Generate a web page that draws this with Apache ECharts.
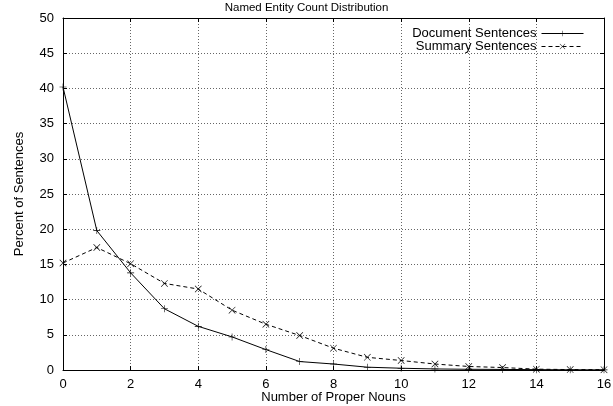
<!DOCTYPE html>
<html><head><meta charset="utf-8">
<script src="https://cdn.jsdelivr.net/npm/echarts@6/dist/echarts.min.js"></script>
<style>html,body{margin:0;padding:0;background:#fff}#c{width:613px;height:406px}</style>
</head><body><div id="c"></div>
<script>
const xValues = [0,1,2,3,4,5,6,7,8,9,10,11,12,13,14,15,16];
const docSentences = [40.2,19.8,13.8,8.7,6.2,4.7,2.9,1.2,0.85,0.4,0.25,0.15,0.1,0.08,0.05,0.03,0.02];
const sumSentences = [15.2,17.4,15.1,12.3,11.5,8.5,6.5,4.9,3.1,1.8,1.35,0.85,0.5,0.35,0.12,0.06,0.05];
const xTicks = [0,2,4,6,8,10,12,14,16];
const yTicks = [0,5,10,15,20,25,30,35,40,45,50];

const FONT = 'Liberation Sans, Arial, Helvetica, sans-serif';
const plusSym = 'path://M0,4.6H10V5.4H0Z M4.6,0H5.4V10H4.6Z';
const crossSym = 'path://M0.6,0L10,9.4L9.4,10L0,0.6Z M9.4,0L10,0.6L0.6,10L0,9.4Z';

const chart = echarts.init(document.getElementById('c'), null, {renderer:'canvas'});
const axisLine = {show:true, onZero:false, lineStyle:{color:'#000', width:1}};
const grid = {show:true, lineStyle:{color:'#666', type:[1,2], width:1}};
chart.setOption({
  animation:false,
  backgroundColor:'#fff',
  title:{text:'Named Entity Count Distribution', left:'center', top:-3,
    textStyle:{fontFamily:FONT, fontSize:11.5, fontWeight:'normal', color:'#000'}},
  legend:{
    right:24, top:22, orient:'vertical', align:'right', itemGap:0,
    itemWidth:42, itemHeight:7,
    lineStyle:{width:1},
    textStyle:{fontFamily:FONT, fontSize:13, lineHeight:12, height:12, color:'#000', padding:[0,0,0,0]},
    data:['Document Sentences','Summary Sentences']
  },
  grid:{left:63, right:9, top:18, bottom:36, containLabel:false, outerBoundsMode:'none', show:false},
  xAxis:[{
    type:'value', min:0, max:16, interval:2, position:'bottom',
    name:'Number of Proper Nouns', nameLocation:'middle', nameGap:21, nameMoveOverlap:false,
    nameTextStyle:{fontFamily:FONT, fontSize:13, color:'#000'},
    axisLine:axisLine,
    axisTick:{show:true, inside:true, length:4, lineStyle:{color:'#000'}},
    axisLabel:{fontFamily:FONT, fontSize:13, color:'#000', margin:8,
      formatter:v=>xTicks.includes(v)?String(v):''},
    splitLine:grid
  },{
    type:'value', min:0, max:16, interval:2, position:'top',
    axisLine:axisLine,
    axisTick:{show:true, inside:true, length:4, lineStyle:{color:'#000'}},
    axisLabel:{show:false}, splitLine:{show:false}
  }],
  yAxis:[{
    type:'value', min:0, max:50, interval:5, position:'left',
    name:'Percent of Sentences', nameLocation:'middle', nameGap:37, nameRotate:90, nameMoveOverlap:false,
    nameTextStyle:{fontFamily:FONT, fontSize:13, color:'#000'},
    axisLine:axisLine,
    axisTick:{show:true, inside:true, length:4, lineStyle:{color:'#000'}},
    axisLabel:{fontFamily:FONT, fontSize:13, color:'#000', margin:9,
      formatter:v=>yTicks.includes(v)?String(v):''},
    splitLine:grid
  },{
    type:'value', min:0, max:50, interval:5, position:'right',
    axisLine:axisLine,
    axisTick:{show:true, inside:true, length:4, lineStyle:{color:'#000'}},
    axisLabel:{show:false}, splitLine:{show:false}
  }],
  series:[{
    name:'Document Sentences', type:'line',
    data:xValues.map((x,i)=>[x,docSentences[i]]),
    symbol:plusSym, symbolSize:7, showAllSymbol:true,
    lineStyle:{color:'#000', width:1},
    itemStyle:{color:'#000'}
  },{
    name:'Summary Sentences', type:'line',
    data:xValues.map((x,i)=>[x,sumSentences[i]]),
    symbol:crossSym, symbolSize:7, showAllSymbol:true,
    lineStyle:{color:'#000', width:1, type:[4,3]},
    itemStyle:{color:'#000'}
  }]
});
</script></body></html>
